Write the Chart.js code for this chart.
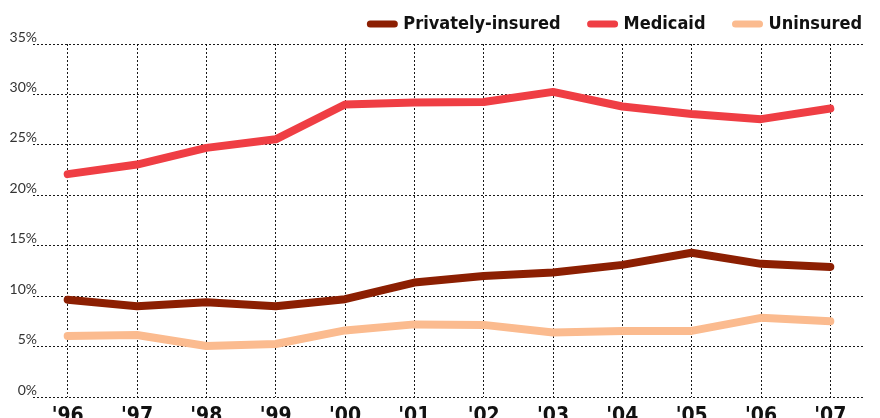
<!DOCTYPE html>
<html>
<head>
<meta charset="utf-8">
<script src="https://cdn.jsdelivr.net/npm/chart.js@4"></script>
<style>
html,body{margin:0;padding:0;background:#fff;}
#wrap{width:880px;height:418px;position:relative;}
</style>
</head>
<body>
<div id="wrap"><canvas id="c" width="880" height="418"></canvas></div>
<script>
const years = ["'96","'97","'98","'99","'00","'01","'02","'03","'04","'05","'06","'07"];
const privatelyInsured = [9.65, 9.0, 9.4, 9.0, 9.7, 11.35, 12.0, 12.35, 13.1, 14.3, 13.2, 12.9];
const medicaid = [22.1, 23.05, 24.7, 25.55, 29.0, 29.2, 29.25, 30.25, 28.8, 28.05, 27.55, 28.6];
const uninsured = [6.05, 6.15, 5.05, 5.25, 6.6, 7.2, 7.15, 6.4, 6.55, 6.55, 7.85, 7.5];
const yTicks = [0, 5, 10, 15, 20, 25, 30, 35];

const boldFamily = "'DejaVu Sans Condensed','DejaVu Sans',sans-serif";
const lightFamily = "Lato,'Open Sans',sans-serif";

function ds(label, data, color){
  return {label, data, borderColor: color, backgroundColor: color, borderWidth: 8,
    borderCapStyle: 'round', borderJoinStyle: 'round', pointRadius: 0, pointHoverRadius: 0,
    tension: 0, fill: false};
}

const LEGEND_HEIGHT = 59;
const LEGEND_SHIFT = 27;
const legendTweak = {
  id: 'legendTweak',
  beforeLayout(chart) {
    const lg = chart.legend;
    if (lg && !lg._wrappedFit) {
      const orig = lg.fit;
      lg.fit = function() { orig.call(this); this.height = LEGEND_HEIGHT; };
      lg._wrappedFit = true;
    }
  },
  afterLayout(chart) {
    const lg = chart.legend;
    if (lg) { lg.left += LEGEND_SHIFT; lg.right += LEGEND_SHIFT; }
  }
};

new Chart(document.getElementById('c'), {
  type: 'line',
  data: {
    labels: years,
    datasets: [
      ds('Privately-insured', privatelyInsured, '#8c1f02'),
      ds('Medicaid', medicaid, '#ef3e44'),
      ds('Uninsured', uninsured, '#fbbb8f')
    ]
  },
  plugins: [legendTweak],
  options: {
    responsive: false,
    animation: false,
    layout: {padding: {left: 0, right: 15, top: -15, bottom: 0}},
    plugins: {
      legend: {
        display: true, position: 'top', align: 'end',
        labels: {
          usePointStyle: true, pointStyle: 'line', pointStyleWidth: 24,
          padding: 30, color: '#111',
          font: {family: boldFamily, weight: 'bold', size: 18},
          generateLabels: (chart) => Chart.defaults.plugins.legend.labels.generateLabels(chart)
            .map(l => Object.assign(l, {lineCap: 'round', lineWidth: 7}))
        }
      },
      tooltip: {enabled: false}
    },
    scales: {
      x: {
        type: 'category', offset: true,
        grid: {color: 'rgba(0,0,0,0.9)', lineWidth: 1, drawTicks: false, offset: false},
        border: {display: false, dash: [2,2]},
        ticks: {padding: 7, color: '#111', font: {family: boldFamily, weight: 'bold', size: 21}, maxRotation: 0, autoSkip: false},
        afterFit: s => { s.height = 21; }
      },
      y: {
        min: 0, max: 35,
        afterBuildTicks: s => { s.ticks = yTicks.map(v => ({value: v})); },
        border: {display: false, dash: [2,2]},
        grid: {color: 'rgba(0,0,0,0.9)', lineWidth: 1, drawTicks: false},
        ticks: {padding: -4, labelOffset: -7, color: '#333', font: {family: lightFamily, size: 14},
          callback: v => v + '%'},
        afterFit: s => { s.width = 33; s._computeLabelArea = () => undefined; }
      }
    }
  }
});
</script>
</body>
</html>
